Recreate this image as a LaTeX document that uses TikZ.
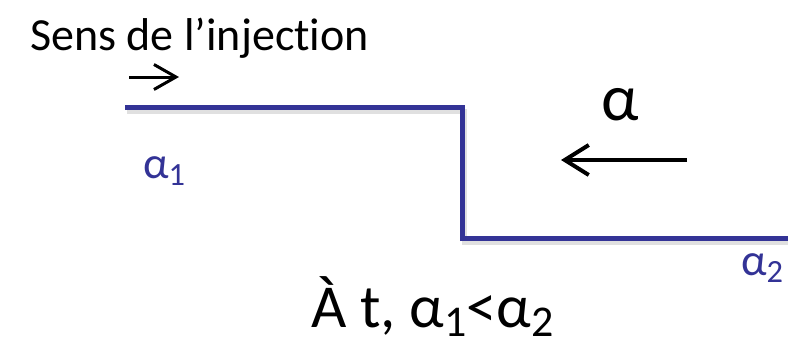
\documentclass[tikz,border=0pt]{standalone}
\usepackage{fontspec}
\setmainfont[Ligatures={NoCommon}]{Carlito}
\usetikzlibrary{arrows.meta}
\definecolor{stepblue}{RGB}{51,51,150}
\newcommand{\mysub}[1]{\raisebox{-0.16em}{\scalebox{0.72}{#1}}}
\begin{document}
\begin{tikzpicture}[x=1pt,y=-1pt,
  lbl/.style={inner sep=0pt,anchor=base west},
  stepline/.style={stepblue,line width=5pt,line join=miter},
  shadowline/.style={black!12,line width=5pt},
  bigarr/.style={-{Straight Barb[length=24pt,width=30pt,line width=4pt]},line width=4pt},
  smallarr/.style={-{Straight Barb[length=22pt,width=25pt,line width=3pt]},line width=3pt}
  ]
\useasboundingbox (0,0) rectangle (788,343);
% step profile
\coordinate (p0) at (125,107);
\coordinate (p1) at (462,107);
\coordinate (p2) at (462,238);
\coordinate (p3) at (790,238);
\draw[shadowline,transform canvas={shift={(2pt,-4pt)}}] (p0) -- (p1) -- (p2) -- (p3);
\draw[stepline] (p0) -- (p1) -- (p2) -- (p3);
% texts
\node[lbl,font=\fontsize{46}{52}\selectfont] (sens) at (30,50) {Sens de l’injection};
\node[lbl,font=\fontsize{66}{70}\selectfont] (alpha) at (601,120) {α};
\node[lbl,font=\fontsize{45}{50}\selectfont,text=stepblue] (a1) at (143,178) {α\mysub{1}};
\node[lbl,font=\fontsize{45}{50}\selectfont,text=stepblue] (a2) at (741,275) {α\mysub{2}};
\node[lbl,font=\fontsize{61}{70}\selectfont] (cond) at (311,327) {À t, α\mysub{1}<α\mysub{2}};
% arrows
\coordinate (s0) at (129,77);
\coordinate (s1) at (179,77);
\draw[smallarr] (s0) -- (s1);
\coordinate (b0) at (687,160);
\coordinate (b1) at (561,160);
\draw[bigarr] (b0) -- (b1);
\end{tikzpicture}
\end{document}
